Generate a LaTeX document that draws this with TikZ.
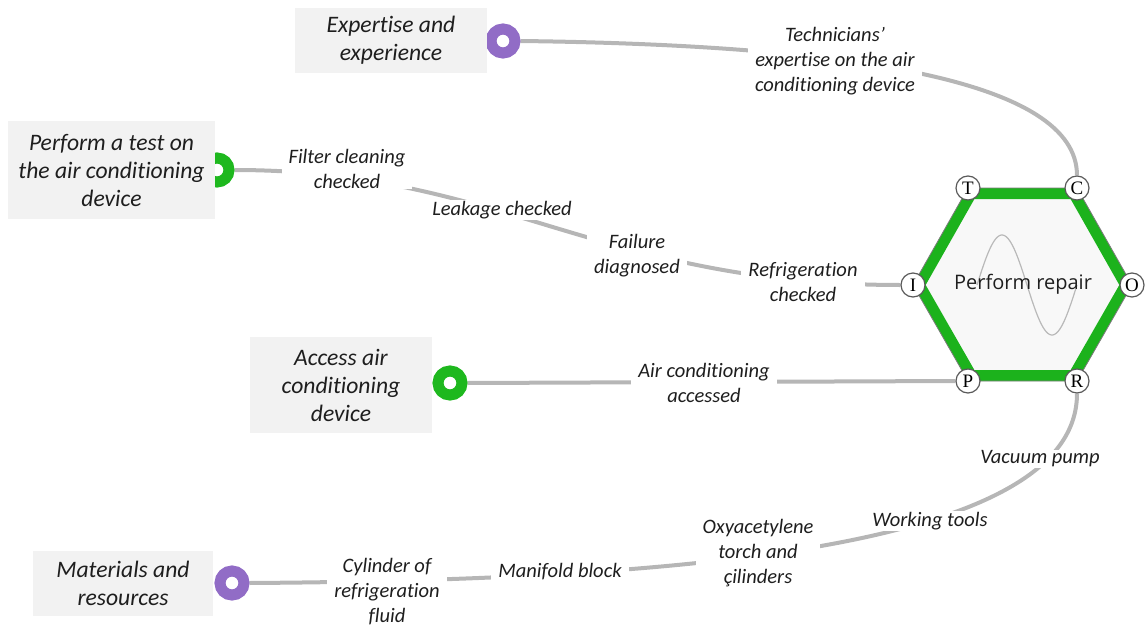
\documentclass[tikz,border=0pt]{standalone}
\usepackage{fontspec}
\setmainfont{Carlito}[Ligatures={NoCommon,NoContextual,NoRare}, Contextuals=NoAlternate]
\newfontfamily\hexfont{Open Sans}
\newfontfamily\portfont{Liberation Serif}
\definecolor{wire}{RGB}{182,182,182}
\definecolor{boxgray}{RGB}{242,242,242}
\definecolor{ringpurple}{RGB}{145,108,198}
\definecolor{ringgreen}{RGB}{30,184,30}
\definecolor{hexgreen}{RGB}{28,178,28}
\definecolor{hexfill}{RGB}{248,248,248}
\definecolor{portline}{RGB}{90,90,90}
\definecolor{inktext}{RGB}{30,30,30}
\pgfdeclarelayer{wires}
\pgfsetlayers{wires,main}
\tikzset{
  srcbox/.style={fill=boxgray, inner sep=0pt, align=center, text=inktext,
    font=\fontsize{23.6}{28}\selectfont\itshape},
  flowlabel/.style={fill=white, inner xsep=7pt, inner ysep=1pt, align=center,
    text=inktext, font=\fontsize{20.5}{25}\selectfont\itshape},
  ring/.style={circle, draw=#1, line width=11pt, fill=white, inner sep=0pt,
    minimum size=24pt},
  port/.style={circle, draw=portline, line width=1.2pt, fill=white, inner sep=0pt,
    minimum size=24pt, font=\portfont\fontsize{19}{19}\selectfont},
  connector/.style={draw=wire, line width=4pt},
}
\begin{document}
\begin{tikzpicture}[x=1pt, y=-1pt]
\useasboundingbox (0,0) rectangle (1146,626);

% hexagon vertices
\coordinate (vT) at (968,188);
\coordinate (vC) at (1077,188);
\coordinate (vO) at (1132,285);
\coordinate (vR) at (1077,381);
\coordinate (vP) at (968,381);
\coordinate (vI) at (913,285);

% function body
\fill[hexfill] (vT) -- (vC) -- (vO) -- (vR) -- (vP) -- (vI) -- cycle;
\begin{scope}
  \clip (vT) -- (vC) -- (vO) -- (vR) -- (vP) -- (vI) -- cycle;
  \draw[hexgreen, line width=22pt, line join=miter]
    (vT) -- (vC) -- (vO) -- (vR) -- (vP) -- (vI) -- cycle;
\end{scope}
\draw[portline!80, line width=0.8pt] (vT) -- (vC) -- (vO) -- (vR) -- (vP) -- (vI) -- cycle;
\draw[gray!55, line width=1.2pt] plot[domain=0:100, samples=80, smooth]
  ({977+\x}, {285-50*sin(3.6*\x)});
\node[font=\hexfont\fontsize{20}{24}\selectfont, text=black!88] (fn) at (1023,284) {Perform repair};

% aspect ports
\node[port] (T) at (vT) {T};
\node[port] (C) at (vC) {C};
\node[port] (O) at (vO) {O};
\node[port] (R) at (vR) {R};
\node[port] (P) at (vP) {P};
\node[port] (I) at (vI) {I};

% upstream functions
\node[ring=ringpurple] (rexp) at (503,41) {};
\node[srcbox, minimum width=192pt, minimum height=65pt] (exp) at (391,40.5)
  {Expertise and\\experience};

\node[ring=ringgreen] (rtest) at (217,170) {};
\node[srcbox, minimum width=207pt, minimum height=98pt] (test) at (111.5,170)
  {Perform a test on\\the air conditioning\\device};

\node[ring=ringgreen] (racc) at (450,383) {};
\node[srcbox, minimum width=182pt, minimum height=96pt] (acc) at (341,385)
  {Access air\\conditioning\\device};

\node[ring=ringpurple] (rmat) at (232,583) {};
\node[srcbox, minimum width=180pt, minimum height=65pt] (mat) at (123,583.5)
  {Materials and\\resources};

% couplings
\begin{pgfonlayer}{wires}
  \draw[connector] (rexp.east) .. controls (850,45) and (1077,80) .. (C.north);
  \draw[connector] (rtest.east) .. controls (500,170) and (600,285) .. (I.west);
  \draw[connector] (racc.east) -- (P.west);
  \draw[connector] (rmat.east) .. controls (700,580) and (1077,545) .. (R.south);
\end{pgfonlayer}

% coupling labels
\node[flowlabel] (l1) at (835,61.5) {Technicians’\\expertise on the air\\conditioning device};
\node[flowlabel] (l2) at (347,168.5) {Filter cleaning\\checked};
\node[flowlabel] (l3) at (502,210) {Leakage checked};
\node[flowlabel] (l4) at (637,255.5) {Failure\\diagnosed};
\node[flowlabel] (l5) at (803,282.5) {Refrigeration\\checked};
\node[flowlabel] (l6) at (704,382.5) {Air conditioning\\accessed};
\node[flowlabel] (l7) at (387,592) {Cylinder of\\refrigeration\\fluid};
\node[flowlabel] (l8) at (560,572) {Manifold block};
\node[flowlabel] (l9) at (758,553) {Oxyacetylene\\torch and\\çilinders};
\node[flowlabel] (l10) at (930,521) {Working tools};
\node[flowlabel] (l11) at (1040,459) {Vacuum pump};
\end{tikzpicture}
\end{document}
